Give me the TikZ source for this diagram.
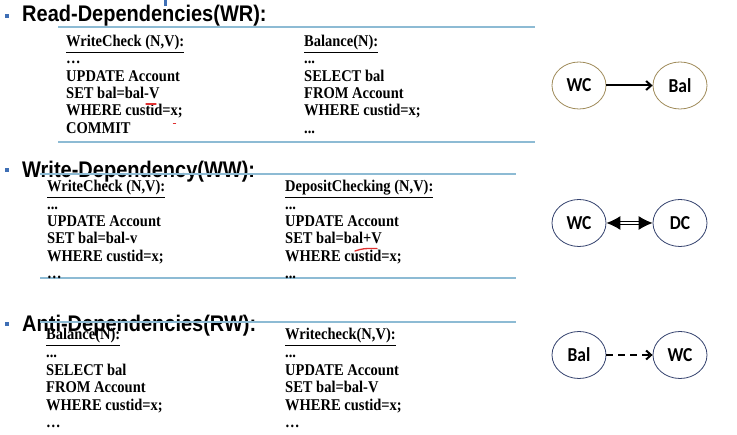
\documentclass[tikz,border=0pt]{standalone}
\usepackage{fontspec}
\setmainfont{Liberation Serif}
\newfontfamily\headfont{Liberation Sans}
\newfontfamily\bubblefont{Carlito}
\usetikzlibrary{arrows.meta,shapes.geometric}
\definecolor{rulecol}{HTML}{8DBBD4}
\definecolor{bulletcol}{HTML}{3F6FB5}
\definecolor{goldring}{HTML}{A08C5B}
\definecolor{navyring}{HTML}{34426E}
\definecolor{markred}{HTML}{E03030}
\newcommand\tightdots{.\kern0pt.\kern0pt.}
% slightly tall lettering
\newcommand\tall[1]{\scalebox{1}[1.13]{#1}}
\tikzset{
  heading/.style={anchor=base west, inner sep=0pt, font=\headfont\bfseries\fontsize{20}{24}\selectfont},
  code/.style={anchor=base west, inner sep=0pt, font=\bfseries\fontsize{14.5}{17}\selectfont},
  bullet/.style={fill=bulletcol, draw=none, minimum size=4pt, inner sep=0pt},
  sep/.style={draw=rulecol, line width=2pt},
  txn/.style={ellipse, draw, fill=white, line width=0.8pt, minimum width=54pt, minimum height=47pt, inner sep=0pt, font=\bubblefont\bfseries\fontsize{17.5}{20}\selectfont},
  dep/.style={line width=2pt, -{Straight Barb[length=5pt,width=9pt,line width=2pt]}},
  markup/.style={draw=markred, line width=1.3pt, line cap=round},
}
\begin{document}
\begin{tikzpicture}[x=1pt,y=-1pt]
\useasboundingbox (0,0) rectangle (737,435);
\fill[white] (0,0) rectangle (737,435);

% small tick at the top edge
\fill[bulletcol] (163.5,0) rectangle (166.5,6);

% ---------- Read-dependencies ----------
\node[bullet] (b1) at (7,16) {};
\node[heading] (h1) at (22,22) {\tall{Read-Dependencies(WR):}};
\coordinate (r1a) at (58,27.5);  \coordinate (r1b) at (535,27.5);
\coordinate (r1c) at (58,142.5); \coordinate (r1d) at (535,142.5);
\draw[sep] (r1a) -- (r1b);
\draw[sep] (r1c) -- (r1d);
\foreach \t [count=\i] in {{\underline{WriteCheck (N,V):}}, {\dots}, {UPDATE Account}, {SET bal=bal-V}, {WHERE custid=x;}, {COMMIT}}
  \node[code] (wr-l\i) at (66,{46.7+17.3*(\i-1)}) {\tall{\t}};
\foreach \t [count=\i] in {{\underline{Balance(N):}}, {\tightdots}, {SELECT bal}, {FROM Account}, {WHERE custid=x;}, {\tightdots}}
  \node[code] (wr-r\i) at (304,{46.7+17.3*(\i-1)}) {\tall{\t}};
\draw[markup] (146,104) -- (156,104);
\draw[markup] (173.5,123.5) -- (175.5,123.5);

\node[txn, draw=goldring] (wc1) at (579,85.5) {\tall{WC}};
\node[txn, draw=goldring] (bal1) at (680,85.5) {\tall{Bal}};
\draw[dep] (wc1) -- (bal1);

% ---------- Write-dependency ----------
\node[bullet] (b2) at (7,170) {};
\node[heading] (h2) at (22,178) {\tall{Write-Dependency(WW):}};
\coordinate (r2a) at (40,174);  \coordinate (r2b) at (516,174);
\coordinate (r2c) at (40,278.5); \coordinate (r2d) at (516,278.5);
\draw[sep] (r2a) -- (r2b);
\draw[sep] (r2c) -- (r2d);
\foreach \t [count=\i] in {{\underline{WriteCheck (N,V):}}, {\tightdots}, {UPDATE Account}, {SET bal=bal-v}, {WHERE custid=x;}, {\dots}}
  \node[code] (ww-l\i) at (47,{192+17.3*(\i-1)}) {\tall{\t}};
\foreach \t [count=\i] in {{\underline{DepositChecking (N,V):}}, {\tightdots}, {UPDATE Account}, {SET bal=bal+V}, {WHERE custid=x;}, {\tightdots}}
  \node[code] (ww-r\i) at (285,{192+17.3*(\i-1)}) {\tall{\t}};
\draw[markup] (355,251) .. controls (363,248.5) .. (377,248.5);

\node[txn, draw=navyring] (wc2) at (579,223) {\tall{WC}};
\node[txn, draw=navyring] (dc2) at (680,223) {\tall{DC}};
\draw[line width=1.1pt, double, double distance=2.4pt,
      {Latex[length=14pt,width=14pt]}-{Latex[length=14pt,width=14pt]}] (wc2) -- (dc2);

% ---------- Anti-dependencies ----------
\node[bullet] (b3) at (7,324) {};
\node[heading] (h3) at (22,332) {\tall{Anti-Dependencies(RW):}};
\coordinate (r3a) at (40,322); \coordinate (r3b) at (516,322);
\draw[sep] (r3a) -- (r3b);
\foreach \t [count=\i] in {{\underline{Balance(N):}}, {\tightdots}, {SELECT bal}, {FROM Account}, {WHERE custid=x;}, {\dots}}
  \node[code] (rw-l\i) at (46,{340+17.6*(\i-1)}) {\tall{\t}};
\foreach \t [count=\i] in {{\underline{Writecheck(N,V):}}, {\tightdots}, {UPDATE Account}, {SET bal=bal-V}, {WHERE custid=x;}, {\dots}}
  \node[code] (rw-r\i) at (285,{340+17.6*(\i-1)}) {\tall{\t}};

\node[txn, draw=navyring] (bal3) at (579,355) {\tall{Bal}};
\node[txn, draw=navyring] (wc3) at (680,355) {\tall{WC}};
\draw[dep, dashed, dash pattern=on 7pt off 5pt] (bal3) -- (wc3);
\end{tikzpicture}
\end{document}
